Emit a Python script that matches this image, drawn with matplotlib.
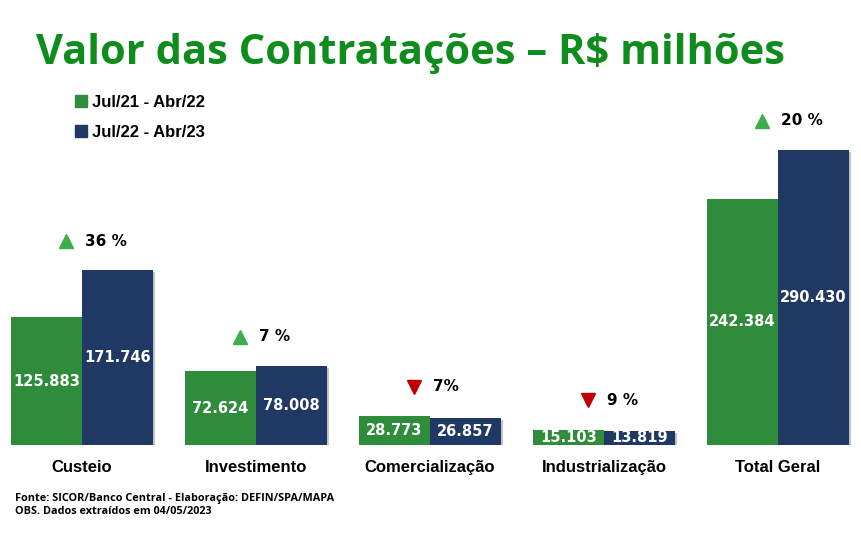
import matplotlib
matplotlib.use('Agg')
import numpy as np
import matplotlib.pyplot as plt
import matplotlib.patheffects as pe
from matplotlib.patches import Patch

categories = ['Custeio', 'Investimento', 'Comercialização', 'Industrialização', 'Total Geral']
periodo_1 = [125.883, 72.624, 28.773, 15.103, 242.384]
periodo_2 = [171.746, 78.008, 26.857, 13.819, 290.430]
variacao = [36, 7, -7, -9, 20]
variacao_txt = ['36 %', '7 %', '7%', '9 %', '20 %']
series_labels = ['Jul/21 - Abr/22', 'Jul/22 - Abr/23']

GREEN = '#2e8c3b'
BLUE = '#1f3864'
TITLE_GREEN = '#0e8c1c'

fig = plt.figure(figsize=(8.62, 5.34), dpi=100)
# axes placed so the baseline sits where the reference has it
ax = fig.add_axes([0, (534 - 445) / 534, 1, 305 / 534])

x = np.arange(len(categories))
w = 0.408
shadow = [pe.SimplePatchShadow(offset=(1.5, -1.5), alpha=0.25), pe.Normal()]
b1 = ax.bar(x - w / 2, periodo_1, w, color=GREEN, path_effects=shadow)
b2 = ax.bar(x + w / 2, periodo_2, w, color=BLUE, path_effects=shadow)

ax.set_xlim(-82 / 174, 780 / 174)
ax.set_ylim(0, 300)
ax.axis('off')

for bars, vals in ((b1, periodo_1), (b2, periodo_2)):
    for b, v in zip(bars, vals):
        ax.text(b.get_x() + b.get_width() / 2, v / 2, f'{v:.3f}',
                ha='center', va='center', color='white',
                fontsize=10.5, fontweight='bold', family='DejaVu Sans')

up_shift = matplotlib.transforms.ScaledTranslation(0, 21 / 72, fig.dpi_scale_trans)
for i, cat in enumerate(categories):
    ax.annotate(cat, (x[i], 0), xytext=(0, -16), textcoords='offset points',
                ha='center', va='center', fontsize=12, fontweight='bold',
                family='Liberation Sans', annotation_clip=False)
    top = max(periodo_1[i], periodo_2[i])
    up = variacao[i] > 0
    ax.plot([x[i] - 0.09], [top], marker='^' if up else 'v', markersize=10,
            color='#3cae4e' if up else '#c00000', clip_on=False,
            transform=ax.transData + up_shift)
    ax.annotate(variacao_txt[i], (x[i], top), xytext=(2, 21), textcoords='offset points',
                ha='left', va='center', fontsize=11, fontweight='bold',
                family='DejaVu Sans', annotation_clip=False)

handles = [Patch(color=GREEN), Patch(color=BLUE)]
fig.legend(handles, series_labels, loc='upper left', bbox_to_anchor=(60 / 862, 1 - 80 / 534),
           frameon=False, handlelength=0.7, handleheight=0.7, handletextpad=0.3,
           labelspacing=0.9, prop={'family': 'Liberation Sans', 'weight': 'bold', 'size': 12})

fig.text(36 / 862, 1 - 53 / 534, 'Valor das Contratações – R$ milhões', ha='left', va='center',
         fontsize=30, fontweight='bold', color=TITLE_GREEN, family='Open Sans')

fig.text(15 / 862, 1 - 498 / 534, 'Fonte: SICOR/Banco Central - Elaboração: DEFIN/SPA/MAPA',
         ha='left', va='center', fontsize=7.8, fontweight='bold', family='Open Sans')
fig.text(15 / 862, 1 - 512 / 534, 'OBS. Dados extraídos em 04/05/2023',
         ha='left', va='center', fontsize=7.8, fontweight='bold', family='Open Sans')

fig.savefig('out.png', dpi=100, facecolor='white')
